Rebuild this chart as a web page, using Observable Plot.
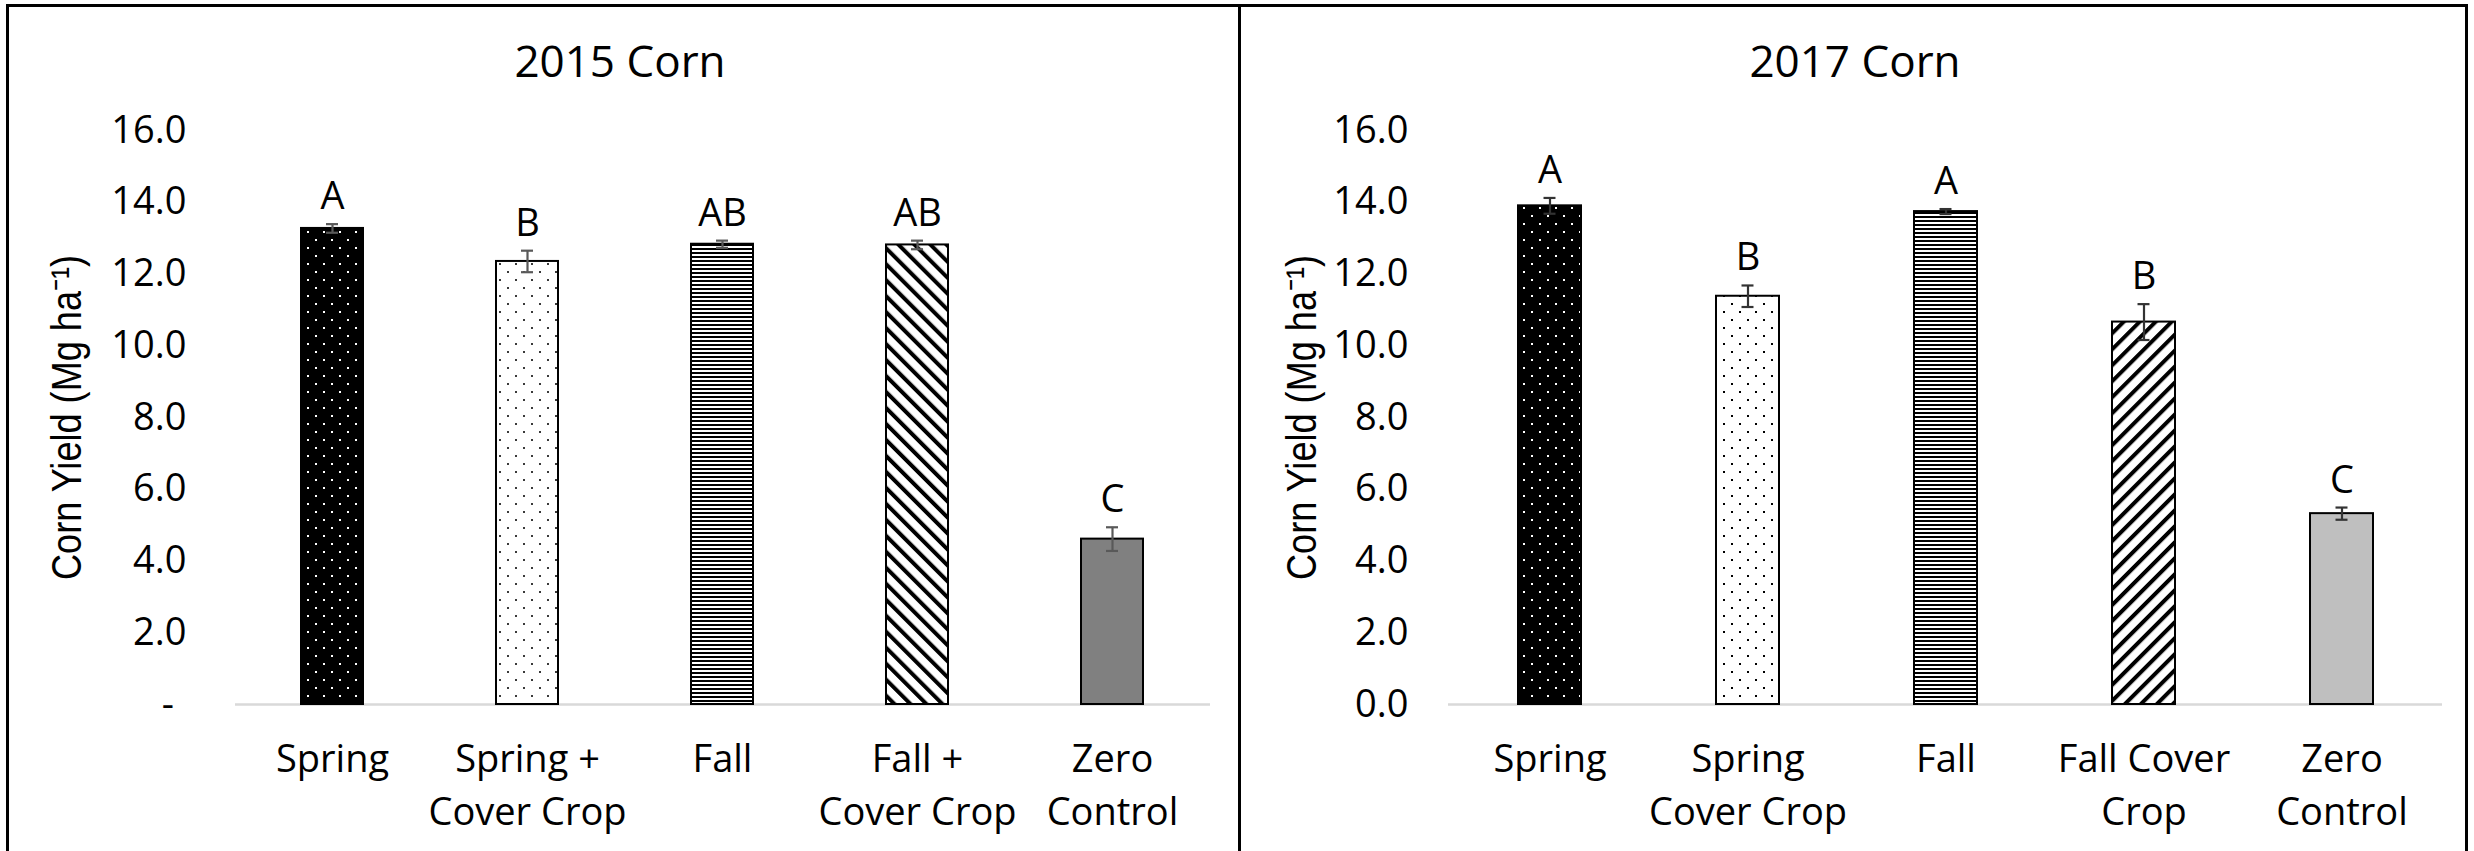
<!DOCTYPE html>
<html>
<head>
<meta charset="utf-8">
<script src="https://cdn.jsdelivr.net/npm/d3@7"></script>
<script src="https://cdn.jsdelivr.net/npm/@observablehq/plot@0.6"></script>
<style>
  html, body { margin: 0; padding: 0; background: #fff; }
  #wrap { position: relative; width: 2474px; height: 851px; overflow: hidden; background: #fff; font-family: "Open Sans", sans-serif; }
  .frame { position: absolute; left: 6px; top: 4px; width: 2462px; height: 900px; border: 3px solid #000; box-sizing: border-box; }
  .divider { position: absolute; left: 1238px; top: 4px; width: 3px; height: 900px; background: #000; }
  .title { position: absolute; top: 35px; text-align: center; font-size: 44px; line-height: 50px; color: #000; }
  .chart { position: absolute; top: 100px; }
</style>
</head>
<body>
<div id="wrap">
  <div class="frame"></div>
  <div class="divider"></div>
  <div class="title" id="t1" style="left:0;width:1240px;">2015 Corn</div>
  <div class="title" id="t2" style="left:1240px;width:1230px;">2017 Corn</div>
  <div class="chart" id="c1" style="left:0;"></div>
  <div class="chart" id="c2" style="left:1240px;"></div>
</div>
<script>
// ---------- data ----------
const categories2015 = ["Spring", "Spring + Cover Crop", "Fall", "Fall + Cover Crop", "Zero Control"];
const tickLabels2015 = ["Spring", "Spring +\nCover Crop", "Fall", "Fall +\nCover Crop", "Zero\nControl"];
const yield2015 = [13.27, 12.35, 12.83, 12.81, 4.61];
const error2015 = [0.12, 0.30, 0.10, 0.12, 0.33];
const letters2015 = ["A", "B", "AB", "AB", "C"];

const categories2017 = ["Spring", "Spring Cover Crop", "Fall", "Fall Cover Crop", "Zero Control"];
const tickLabels2017 = ["Spring", "Spring\nCover Crop", "Fall", "Fall Cover\nCrop", "Zero\nControl"];
const yield2017 = [13.90, 11.38, 13.74, 10.66, 5.32];
const error2017 = [0.22, 0.30, 0.07, 0.50, 0.17];
const letters2017 = ["A", "B", "A", "B", "C"];

const yTicks = [0, 2, 4, 6, 8, 10, 12, 14, 16];
const yLabel = "Corn Yield (Mg ha\u207B\u00B9)";

// ---------- styles ----------
const patternKeys2015 = ["dotsDark", "dotsLight", "hstripes", "diagBack", "solid"];
const patternKeys2017 = ["dotsDark", "dotsLight", "hstripes", "diagFwd", "solid"];

function addPatterns(svg, prefix, opts) {
  const ns = "http://www.w3.org/2000/svg";
  const defs = document.createElementNS(ns, "defs");
  defs.innerHTML = `
    <pattern id="${prefix}dotsDark" patternUnits="userSpaceOnUse" width="16" height="16">
      <rect width="16" height="16" fill="#000"/>
      <rect x="3" y="3" width="2" height="2" fill="#fff"/>
      <rect x="11" y="11" width="2" height="2" fill="#fff"/>
    </pattern>
    <pattern id="${prefix}dotsLight" patternUnits="userSpaceOnUse" width="16" height="16">
      <rect width="16" height="16" fill="#fff"/>
      <rect x="3" y="3" width="2" height="2" fill="${opts.dotColor}"/>
      <rect x="11" y="11" width="2" height="2" fill="${opts.dotColor}"/>
    </pattern>
    <pattern id="${prefix}hstripes" patternUnits="userSpaceOnUse" width="8" height="4">
      <rect width="8" height="4" fill="#fff"/>
      <rect width="8" height="2" fill="#000"/>
    </pattern>
    <pattern id="${prefix}diagBack" patternUnits="userSpaceOnUse" width="11.3" height="11.3" patternTransform="rotate(-45)">
      <rect width="11.3" height="11.3" fill="#fff"/>
      <rect width="4" height="11.3" fill="#000"/>
    </pattern>
    <pattern id="${prefix}diagFwd" patternUnits="userSpaceOnUse" width="11.3" height="11.3" patternTransform="rotate(45)">
      <rect width="11.3" height="11.3" fill="#fff"/>
      <rect width="4" height="11.3" fill="#000"/>
    </pattern>
    <pattern id="${prefix}solid" patternUnits="userSpaceOnUse" width="4" height="4">
      <rect width="4" height="4" fill="${opts.solid}"/>
    </pattern>`;
  svg.insertBefore(defs, svg.firstChild);
}

function makeChart({categories, tickLabels, values, errors, letters, patternKeys, prefix,
                    width, marginLeft, marginRight, padInner, tickPad, zeroLabel, errColor, yLabelDx}) {
  const data = categories.map((c, i) => ({
    cat: c, value: values[i], err: errors[i], letter: letters[i],
    fill: `url(#${prefix}${patternKeys[i]})`
  }));
  const labelOf = new Map(categories.map((c, i) => [c, tickLabels[i]]));
  const bw = (width - marginLeft - marginRight) / categories.length * (1 - padInner);
  const capInset = (bw - 12) / 2;
  const height = 751;
  const chart = Plot.plot({
    width, height,
    marginLeft, marginRight, marginTop: 30, marginBottom: 147,
    style: {fontFamily: "'Open Sans', sans-serif", fontSize: "38px", color: "#000", background: "transparent"},
    x: {type: "band", domain: categories, paddingInner: padInner, paddingOuter: padInner / 2},
    y: {domain: [0, 16]},
    color: {type: "identity"},
    marks: [
      Plot.ruleY([0], {stroke: "#d9d9d9", strokeWidth: 2.5}),
      Plot.barY(data, {x: "cat", y: "value", fill: "fill", stroke: "#000", strokeWidth: 2}),
      Plot.ruleX(data, {x: "cat", y1: d => d.value - d.err, y2: d => d.value + d.err, stroke: errColor, strokeWidth: 2.2}),
      Plot.tickY(data, {x: "cat", y: d => d.value + d.err, stroke: errColor, strokeWidth: 2.2, insetLeft: capInset, insetRight: capInset}),
      Plot.tickY(data, {x: "cat", y: d => d.value - d.err, stroke: errColor, strokeWidth: 2.2, insetLeft: capInset, insetRight: capInset}),
      Plot.text(data, {x: "cat", y: d => d.value + d.err, text: "letter", lineAnchor: "bottom", dy: -15, fontSize: 38, fill: "#000"}),
      Plot.axisY({ticks: yTicks, tickSize: 0, tickPadding: tickPad, label: null, fontSize: 38,
                  tickFormat: d => d === 0 ? zeroLabel : d3.format(".1f")(d)}),
      Plot.axisX({tickSize: 0, tickPadding: 30, label: null, fontSize: 38, lineHeight: 1.4,
                  tickFormat: d => labelOf.get(d)}),
      Plot.text([yLabel], {frameAnchor: "left", textAnchor: "middle", lineAnchor: "middle", text: d => d, rotate: -90, dx: yLabelDx,
                           fontFamily: "'Liberation Sans', Arial, sans-serif", fontSize: 42, fill: "#000"})
    ]
  });
  addPatterns(chart, prefix, {dotColor: prefix === "l-" ? "#3a3a3a" : "#000", solid: prefix === "l-" ? "#808080" : "#bfbfbf"});
  // compress the rotated y label along its length (the reference's label is wide-bodied)
  chart.querySelectorAll("text").forEach(t => {
    if (t.textContent === yLabel) {
      const tr = t.getAttribute("transform") || "";
      t.setAttribute("transform", tr + " scale(0.86,1)");
    }
  });
  return chart;
}

document.getElementById("c1").appendChild(makeChart({
  categories: categories2015, tickLabels: tickLabels2015, values: yield2015, errors: error2015,
  letters: letters2015, patternKeys: patternKeys2015, prefix: "l-",
  width: 1240, marginLeft: 235, marginRight: 30, padInner: 0.682, tickPad: 49,
  zeroLabel: "-\u2009\u2009", errColor: "#595959", yLabelDx: -168
}));
document.getElementById("c2").appendChild(makeChart({
  categories: categories2017, tickLabels: tickLabels2017, values: yield2017, errors: error2017,
  letters: letters2017, patternKeys: patternKeys2017, prefix: "r-",
  width: 1234, marginLeft: 208, marginRight: 32, padInner: 0.683, tickPad: 40,
  zeroLabel: "0.0", errColor: "#333", yLabelDx: -146
}));
</script>
</body>
</html>
